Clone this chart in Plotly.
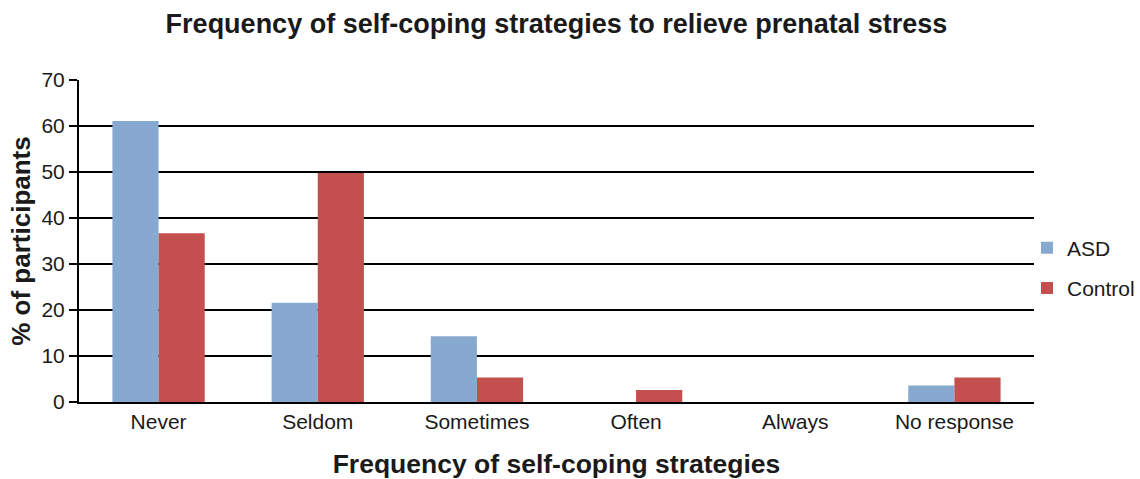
import plotly.graph_objects as go

categories = ["Never", "Seldom", "Sometimes", "Often", "Always", "No response"]
asd = [61.1, 21.6, 14.3, 0, 0, 3.6]
control = [36.7, 49.8, 5.3, 2.6, 0, 5.3]

fig = go.Figure()
fig.add_trace(go.Bar(name="ASD", x=categories, y=asd, marker_color="#88A9CF",
                     marker_line_width=0, legendgroup="a"))
fig.add_trace(go.Bar(name="Control", x=categories, y=control, marker_color="#C44F4F",
                     marker_line_width=0, legendgroup="b"))

font = "Liberation Sans, Arial, sans-serif"
fig.update_layout(
    width=1140, height=479,
    margin=dict(l=79, r=106, t=80, b=77, autoexpand=False),
    paper_bgcolor="white", plot_bgcolor="white",
    barmode="group", bargap=0.42, bargroupgap=0,
    font=dict(family=font, size=21, color="#1a1a1a"),
    title=dict(text="<b>Frequency of self-coping strategies to relieve prenatal stress</b>",
               xref="paper", x=0.5, xanchor="center", y=0.95, yanchor="middle",
               font=dict(size=27, color="#1a1a1a")),
    legend=dict(xref="container", x=1027/1140, xanchor="left", y=0.416, yanchor="middle",
                traceorder="grouped", tracegroupgap=10, bgcolor="rgba(0,0,0,0)",
                font=dict(size=21)),
    xaxis=dict(showline=True, linecolor="black", linewidth=2, ticks="",
               tickfont=dict(size=21),
               title=dict(text="<b>Frequency of self-coping strategies</b>",
                          font=dict(size=26.5), standoff=23)),
    yaxis=dict(range=[0, 70], dtick=10, showgrid=True, gridcolor="black", gridwidth=2,
               showline=True, linecolor="black", linewidth=2,
               ticks="outside", ticklen=8, tickcolor="black", tickwidth=2,
               zeroline=False, tickfont=dict(size=21),
               title=dict(text="<b>% of participants</b>", font=dict(size=26), standoff=3)),
)

fig.write_html("out.html")
